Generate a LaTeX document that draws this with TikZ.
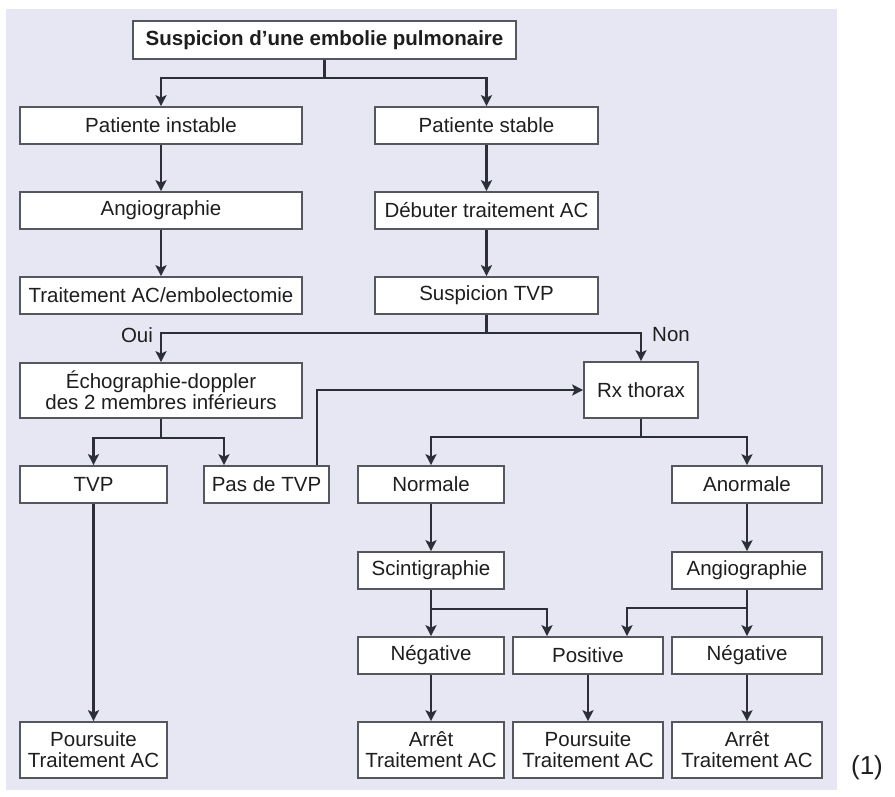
\documentclass[tikz,border=0pt]{standalone}
\usepackage{fontspec}
\setmainfont{Liberation Sans}
\usetikzlibrary{arrows.meta,positioning}
\definecolor{PanelBlue}{HTML}{E6E7F3}
\definecolor{LineDark}{HTML}{2C2F38}
\definecolor{BoxEdge}{HTML}{55575F}
\definecolor{InkGray}{HTML}{1E1E1E}

\tikzset{
  stepbox/.style={draw=BoxEdge, line width=1.7pt, fill=white, minimum height=37, inner sep=2pt, align=center},
  flow/.style={draw=LineDark, line width=2.4pt, -{Stealth[length=11pt,width=11pt,inset=2.5pt]}},
}

\begin{document}
\begin{tikzpicture}[x=1pt,y=-1pt, every node/.style={font=\fontsize{20.5}{21}\selectfont, text=InkGray}]
  \useasboundingbox (0,0) rectangle (895,797);
  \fill[PanelBlue] (6,9) rectangle (837,790);

  % first levels
  \node[stepbox, font=\fontsize{20.5}{21}\selectfont\bfseries, minimum width=383, minimum height=38] (top) at (324.5,40) {Suspicion d’une embolie pulmonaire};
  \node[stepbox, minimum width=282] (inst) at (161,125.5) {Patiente instable};
  \node[stepbox, minimum width=223] (stab) at (486.5,125.5) {Patiente stable};
  \node[stepbox, minimum width=282] (angioA) at (161,210.5) {Angiographie};
  \node[stepbox, minimum width=223] (debut) at (486.5,210.5) {Débuter traitement AC};
  \node[stepbox, minimum width=282] (embol) at (161,295.5) {Traitement AC/embolectomie};
  \node[stepbox, minimum width=223] (susp) at (486.5,295.5) {Suspicion TVP};

  % TVP branch
  \node[stepbox, minimum width=282, minimum height=55] (echo) at (161,390.5) {Échographie-doppler\\des 2 membres inférieurs};
  \node[stepbox, minimum width=114, minimum height=56] (rx) at (641,390) {Rx thorax};
  \node[stepbox, minimum width=147] (tvp) at (93.5,484.5) {TVP};
  \node[stepbox, minimum width=125] (pas) at (266.5,484.5) {Pas de TVP};
  \node[stepbox, minimum width=146] (norm) at (431,484.5) {Normale};
  \node[stepbox, minimum width=150] (anorm) at (747,484.5) {Anormale};
  \node[stepbox, minimum width=146] (scint) at (431,570.5) {Scintigraphie};
  \node[stepbox, minimum width=150] (angioB) at (747,570.5) {Angiographie};
  \node[stepbox, minimum width=146] (negA) at (431,655.5) {Négative};
  \node[stepbox, minimum width=150] (pos) at (588,655.5) {Positive};
  \node[stepbox, minimum width=150] (negB) at (747,655.5) {Négative};

  % last row
  \node[stepbox, minimum width=147, minimum height=56] (poursA) at (93.5,750) {Poursuite\\Traitement AC};
  \node[stepbox, minimum width=146, minimum height=56] (arretA) at (431,750) {Arrêt\\Traitement AC};
  \node[stepbox, minimum width=150, minimum height=56] (poursB) at (588,750) {Poursuite\\Traitement AC};
  \node[stepbox, minimum width=150, minimum height=56] (arretB) at (747,750) {Arrêt\\Traitement AC};

  \node (oui) at (137,335) {Oui};
  \node (non) at (671,335) {Non};
  \node[font=\fontsize{26}{28}\selectfont] (fignum) at (867,768) {(1)};

  % connectors
  \draw[flow] (top.south) -- ++(0,18) -| (inst.north);
  \draw[flow] (top.south) -- ++(0,18) -| (stab.north);
  \draw[flow] (inst) -- (angioA);
  \draw[flow] (angioA) -- (embol);
  \draw[flow] (stab) -- (debut);
  \draw[flow] (debut) -- (susp);
  \draw[flow] (susp.south) -- ++(0,18) -| (echo.north);
  \draw[flow] (susp.south) -- ++(0,18) -| (rx.north);
  \draw[flow] (echo.south) -- ++(0,19) -| (tvp.north);
  \draw[flow] (echo.south) -- ++(0,19) -| ([xshift=-42.5]pas.north);
  \draw[flow] ([xshift=50.5]pas.north) |- (rx.west);
  \draw[flow] (rx.south) -- ++(0,18) -| (norm.north);
  \draw[flow] (rx.south) -- ++(0,18) -| (anorm.north);
  \draw[flow] (tvp) -- (poursA);
  \draw[flow] (norm) -- (scint);
  \draw[flow] (anorm) -- (angioB);
  \draw[flow] (scint) -- (negA);
  \draw[flow] (scint.south) -- ++(0,19) -| ([xshift=-41]pos.north);
  \draw[flow] (angioB) -- (negB);
  \draw[flow] (angioB.south) -- ++(0,18) -| ([xshift=39]pos.north);
  \draw[flow] (negA) -- (arretA);
  \draw[flow] (pos) -- (poursB);
  \draw[flow] (negB) -- (arretB);
\end{tikzpicture}
\end{document}
